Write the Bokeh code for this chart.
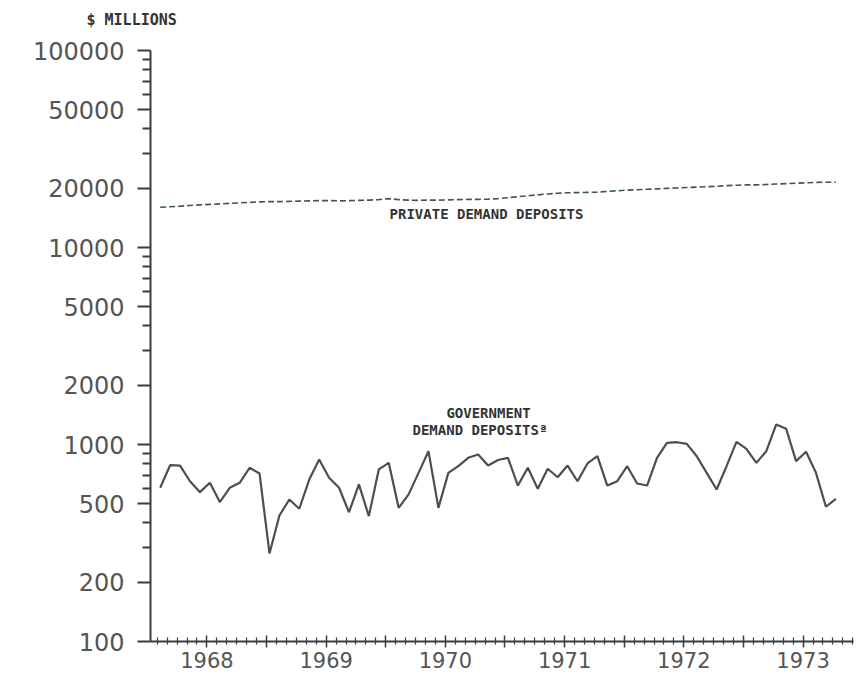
from bokeh.plotting import figure
from bokeh.models import FixedTicker, Label, Range1d, Title
from bokeh.embed import file_html
from bokeh.resources import INLINE

# ---------------- data (monthly, Feb 1968 - Oct 1973), $ millions ----------------
start_year, start_month = 1968, 2
n_months = 69

government = [603, 785, 782, 651, 573, 639, 510, 603, 639, 762, 712,
              280, 436, 526, 472, 664, 839, 678, 603, 453, 627, 433, 747, 807,
              477, 558, 718, 925, 477, 718, 776, 856, 890, 782, 834, 856,
              619, 762, 596, 753, 682, 782, 651, 801, 872, 619, 651, 776,
              634, 619, 856, 1020, 1027, 1008, 872, 718, 591, 776, 1032, 951,
              807, 925, 1264, 1201, 823, 918, 718, 483, 530]

private = [16000, 16100, 16200, 16350, 16450, 16550, 16650, 16750, 16850, 16950, 17050,
           17100, 17100, 17150, 17200, 17250, 17300, 17300, 17250, 17300, 17350, 17400, 17500,
           17700, 17500, 17400, 17350, 17400, 17400, 17450, 17500, 17550, 17550, 17600, 17700,
           17900, 18100, 18300, 18500, 18700, 18850, 18950, 19000, 19050, 19100, 19250, 19400,
           19550, 19650, 19750, 19850, 19950, 20050, 20150, 20250, 20350, 20450, 20600, 20700,
           20800, 20800, 20900, 21000, 21100, 21200, 21300, 21400, 21450, 21450]

year_labels = ["1968", "1969", "1970", "1971", "1972", "1973"]
y_tick_labels = [100, 200, 500, 1000, 2000, 5000, 10000, 20000, 50000, 100000]

# month positions as decimal years
months = []
for i in range(n_months):
    m = start_month - 1 + i
    months.append((start_year + m // 12, m % 12 + 1))
x = [y + (mo - 1 + 0.3) / 12.0 for (y, mo) in months]

x_start, x_end = 1968.027, 1973.923

p = figure(width=856, height=677, output_backend="svg", toolbar_location=None,
           y_axis_type="log",
           x_range=Range1d(x_start, x_end), y_range=Range1d(100, 100000))
p.min_border_left = 150
p.min_border_top = 50
p.min_border_right = 3
p.min_border_bottom = 36
p.outline_line_color = None
p.background_fill_color = "white"
p.border_fill_color = "white"
p.xgrid.visible = False
p.ygrid.visible = False

axis_col = "#3a3d3f"
label_col = "#555555"

# y axis
minor_y = []
for d in [100, 1000, 10000]:
    for k in range(2, 10):
        if d * k not in y_tick_labels:
            minor_y.append(d * k)
p.yaxis.ticker = FixedTicker(ticks=y_tick_labels, minor_ticks=minor_y)
p.yaxis.major_label_overrides = {float(t): str(t) for t in y_tick_labels}
p.yaxis.major_tick_out = 13
p.yaxis.major_tick_in = 0
p.yaxis.minor_tick_out = 8
p.yaxis.minor_tick_in = 0
p.yaxis.major_label_standoff = 13
p.yaxis.major_label_text_font = "DejaVu Sans"
p.yaxis.major_label_text_font_size = "24px"
p.yaxis.major_label_text_color = label_col
p.yaxis.axis_line_color = axis_col
p.yaxis.axis_line_width = 2
p.yaxis.major_tick_line_color = axis_col
p.yaxis.major_tick_line_width = 2
p.yaxis.minor_tick_line_color = axis_col
p.yaxis.minor_tick_line_width = 2

# x axis
years = [int(s) for s in year_labels]
boundaries = [float(y) for y in years[1:]]
mids = [y + 0.5 for y in years]
month_ticks = [y + k / 12.0 for y in years for k in range(12)] + [1974.0]
month_ticks = [t for t in month_ticks if x_start < t < x_end and t not in boundaries and t not in mids]
p.xaxis.ticker = FixedTicker(ticks=sorted(boundaries + mids), minor_ticks=month_ticks)
overrides = {b: "" for b in boundaries}
overrides.update({m: lab for m, lab in zip(mids, year_labels)})
p.xaxis.major_label_overrides = overrides
p.xaxis.major_tick_out = 6
p.xaxis.major_tick_in = 6
p.xaxis.minor_tick_out = 3
p.xaxis.minor_tick_in = 4
p.xaxis.major_label_standoff = 4
p.xaxis.major_label_text_font = "DejaVu Sans"
p.xaxis.major_label_text_font_size = "21px"
p.xaxis.major_label_text_color = label_col
p.xaxis.axis_line_color = axis_col
p.xaxis.axis_line_width = 2
p.xaxis.major_tick_line_color = axis_col
p.xaxis.major_tick_line_width = 1.5
p.xaxis.minor_tick_line_color = axis_col
p.xaxis.minor_tick_line_width = 1.2

# "$ MILLIONS" as a title above the y axis (trailing blank line lifts it)
t = Title(text="$ MILLIONS\n", align="left", offset=-64, standoff=7,
          text_font="DejaVu Sans Mono", text_font_style="bold",
          text_font_size="15px", text_color="#333333")
p.add_layout(t, "above")

# series
p.line(x, private, line_color="#3d5560", line_width=1.6, line_dash="6 3")
p.line(x, government, line_color="#4a4f52", line_width=2.2)

# annotations
ann = dict(text_font="DejaVu Sans Mono", text_font_style="bold",
           text_font_size="14px", text_color="#333333",
           text_align="center", text_baseline="middle")
p.add_layout(Label(x=1970.845, y=14710, text="PRIVATE DEMAND DEPOSITS", **ann))
p.add_layout(Label(x=1970.862, y=1453, text="GOVERNMENT", **ann))
p.add_layout(Label(x=1970.79, y=1191, text="DEMAND DEPOSITSª", **ann))

open("out.html", "w").write(file_html(p, INLINE))
